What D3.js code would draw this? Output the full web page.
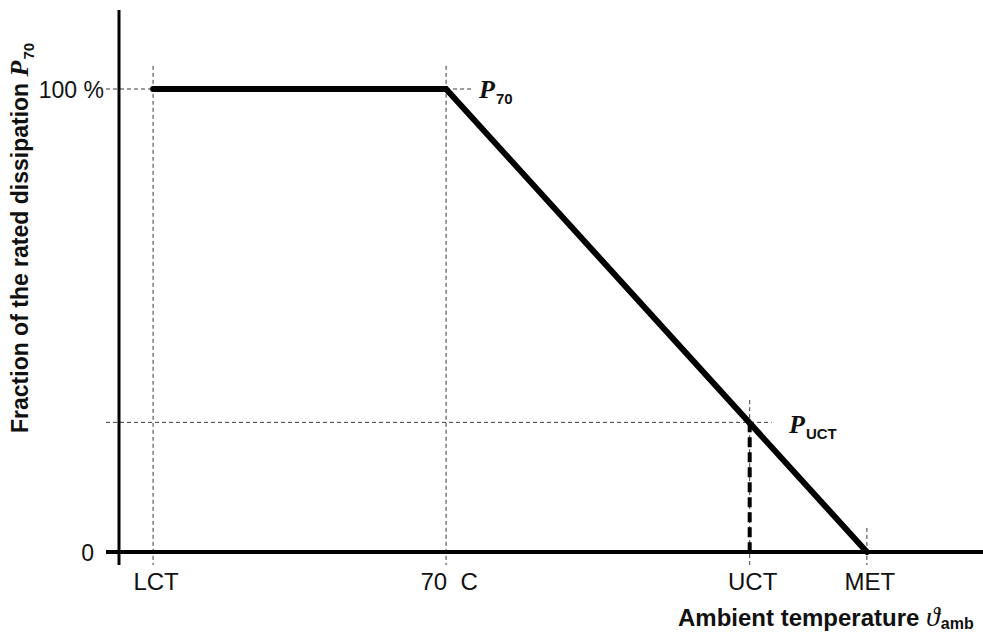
<!DOCTYPE html>
<html>
<head>
<meta charset="utf-8">
<script src="https://cdn.jsdelivr.net/npm/d3@7"></script>
<style>
  html, body { margin: 0; padding: 0; background: #fff; }
  svg { display: block; }
  text { fill: #111; }
</style>
</head>
<body>
<svg id="chart" width="983" height="634"></svg>
<script>
// ---- data ----
const xTickLabels = ["LCT", "70  C", "UCT", "MET"];
const xTickTemps  = [-40, 70, 184, 228];          // ambient temperature positions
const powerValues = [100, 100, 28, 0];            // fraction of rated dissipation (%)
const yTickValues = [0, 100];
const yTickLabels = ["0", "100 %"];

// ---- layout ----
const svg = d3.select("#chart");
const x = d3.scaleLinear().domain([-52.8, 271.6]).range([119, 983]);
const y = d3.scaleLinear().domain([0, 100]).range([552, 89]);

const pts = xTickTemps.map((t, i) => ({ t, p: powerValues[i] }));
const dashThin = "4,3";
const gray = "#3a3a3a";

// thin dashed guide lines
const g = svg.append("g");
g.append("line").attr("x1", 106).attr("x2", x(pts[0].t)).attr("y1", y(100)).attr("y2", y(100));
g.append("line").attr("x1", x(pts[1].t)).attr("x2", x(pts[1].t) + 27).attr("y1", y(100)).attr("y2", y(100));
g.append("line").attr("x1", 106).attr("x2", x(pts[2].t) + 22).attr("y1", y(pts[2].p)).attr("y2", y(pts[2].p));
g.append("line").attr("x1", x(pts[0].t)).attr("x2", x(pts[0].t)).attr("y1", y(105)).attr("y2", 565);
g.append("line").attr("x1", x(pts[1].t)).attr("x2", x(pts[1].t)).attr("y1", y(105)).attr("y2", 565);
g.append("line").attr("x1", x(pts[2].t)).attr("x2", x(pts[2].t)).attr("y1", y(pts[2].p + 4.8)).attr("y2", 565);
g.append("line").attr("x1", x(pts[3].t)).attr("x2", x(pts[3].t)).attr("y1", y(5.2)).attr("y2", 565);
g.selectAll("line").attr("stroke", gray).attr("stroke-width", 1).attr("stroke-dasharray", dashThin);

// thick dashed UCT drop line
svg.append("line")
  .attr("x1", x(pts[2].t)).attr("x2", x(pts[2].t))
  .attr("y1", y(pts[2].p)).attr("y2", y(0))
  .attr("stroke", "#000").attr("stroke-width", 4).attr("stroke-dasharray", "10,5");

// axes
svg.append("line").attr("x1", 119).attr("x2", 119).attr("y1", 10).attr("y2", 565)
  .attr("stroke", "#000").attr("stroke-width", 3);
svg.append("line").attr("x1", 106).attr("x2", 983).attr("y1", y(0)).attr("y2", y(0))
  .attr("stroke", "#000").attr("stroke-width", 4);

// main derating curve
const line = d3.line().x(d => x(d.t)).y(d => y(d.p));
svg.append("path")
  .datum(pts.filter((d, i) => i !== 2))
  .attr("d", line)
  .attr("fill", "none").attr("stroke", "#000").attr("stroke-width", 6)
  .attr("stroke-linejoin", "miter").attr("stroke-linecap", "round");

// x tick labels
svg.selectAll(".xt").data(xTickLabels).join("text")
  .attr("class", "xt")
  .attr("x", (d, i) => x(xTickTemps[i]) + 3)
  .attr("y", 590)
  .attr("text-anchor", "middle")
  .style("white-space", "pre")
  .attr("font-family", "Liberation Sans, Arial, sans-serif")
  .attr("font-size", 24)
  .text(d => d);

// y tick labels
svg.selectAll(".yt").data(yTickLabels).join("text")
  .attr("class", "yt")
  .attr("x", (d, i) => i === 0 ? 94 : 104)
  .attr("y", (d, i) => y(yTickValues[i]) + 9)
  .attr("text-anchor", "end")
  .style("white-space", "pre")
  .attr("font-family", "Liberation Sans, Arial, sans-serif")
  .attr("font-size", 23)
  .text(d => d);

function symLabel(parent, xPos, yPos, sym, sub, symSize, subSize, subDy) {
  const t = parent.append("text").attr("x", xPos).attr("y", yPos);
  t.append("tspan").attr("font-family", "Liberation Serif, Times New Roman, serif")
    .attr("font-style", "italic").attr("font-weight", "bold").attr("font-size", symSize).text(sym);
  t.append("tspan").attr("font-family", "Liberation Sans, Arial, sans-serif")
    .attr("font-weight", "bold").attr("font-size", subSize).attr("dy", subDy).attr("dx", 1).text(sub);
  return t;
}

symLabel(svg, 479, 98, "P", "70", 26, 15, 6);
symLabel(svg, 789, 433, "P", "UCT", 26, 15, 6);

// x axis title
const xt = svg.append("text").attr("x", 678).attr("y", 626);
xt.append("tspan").attr("font-family", "Liberation Sans, Arial, sans-serif")
  .attr("font-weight", "bold").attr("font-size", 24).style("white-space", "pre").text("Ambient temperature ");
xt.append("tspan").attr("font-family", "Liberation Serif, Times New Roman, serif")
  .attr("font-style", "italic").attr("font-size", 28).text("ϑ");
xt.append("tspan").attr("font-family", "Liberation Sans, Arial, sans-serif")
  .attr("font-weight", "bold").attr("font-size", 16).attr("dy", 3).attr("dx", 1).text("amb");

// y axis title (rotated)
const yg = svg.append("g").attr("transform", "translate(28,433) rotate(-90)");
const yt = yg.append("text").attr("x", 0).attr("y", 0);
yt.append("tspan").attr("font-family", "Liberation Sans, Arial, sans-serif")
  .attr("font-weight", "bold").attr("font-size", 23).style("white-space", "pre").text("Fraction of the rated dissipation ");
yt.append("tspan").attr("font-family", "Liberation Serif, Times New Roman, serif")
  .attr("font-style", "italic").attr("font-weight", "bold").attr("font-size", 26).text("P");
yt.append("tspan").attr("font-family", "Liberation Sans, Arial, sans-serif")
  .attr("font-weight", "bold").attr("font-size", 15).attr("dy", 6).attr("dx", 1).text("70");
</script>
</body>
</html>
